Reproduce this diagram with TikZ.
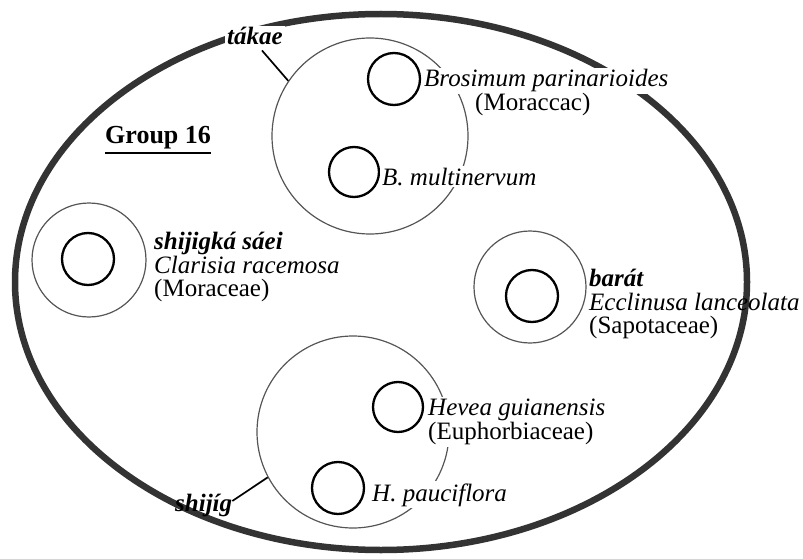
\documentclass[tikz,border=0pt]{standalone}
\usepackage{fontspec}
\setmainfont{Liberation Serif}
\usetikzlibrary{positioning}
\definecolor{rimgray}{RGB}{51,51,51}
\definecolor{ringgray}{RGB}{85,85,85}
\newcommand{\lblfont}{\fontsize{25}{23.5}\selectfont}
\tikzset{
  rim/.style={draw=rimgray, line width=6.5pt},
  ring/.style={circle, draw=ringgray, line width=1.2pt, inner sep=0pt},
  seedcircle/.style={circle, draw=black, line width=2.3pt, inner sep=0pt,
    minimum size=52pt},
  lbl/.style={inner sep=0pt, font=\lblfont, align=left},
  lblcut/.style={lbl, fill=white, inner sep=2pt},
  leader/.style={line width=1.7pt},
}

\begin{document}
\begin{tikzpicture}[x=1pt, y=-1pt]
  \useasboundingbox (0,0) rectangle (803,559);

  % Outer group boundary
  \draw[rim] (381,282) ellipse [x radius=366pt, y radius=268pt];

  % Rings
  \node[ring, minimum size=196pt] (topring) at (370,136) {};
  \node[ring, minimum size=192pt] (botring) at (353,432) {};
  \node[ring, minimum size=114pt] (clarring) at (89,260) {};
  \node[ring, minimum size=112pt] (baratring) at (530,287) {};

  % Seed circles
  \node[seedcircle] (brosimum) at (394,79) {};
  \node[seedcircle, minimum size=50pt] (multi) at (354,172) {};
  \node[seedcircle] (clarisia) at (88,259) {};
  \node[seedcircle] (ecclinusa) at (532,296) {};
  \node[seedcircle, minimum size=50pt] (hevea) at (398,407) {};
  \node[seedcircle] (paucif) at (338,488) {};

  % Labels
  \node[lbl, anchor=base west, font=\fontsize{26}{24}\selectfont\bfseries] (grp) at (105,143) {Group 16};
  \node[lblcut, anchor=base west] (takae) at (225,45) {\textbf{\textit{tákae}}};
  \node[lblcut, anchor=base west] (brosname) at (422,87) {\textit{Brosimum parinarioides}};
  \node[lbl, anchor=base west] (moraccac) at ([xshift=53pt, yshift=-23.5pt]brosname.base west) {(Moraccac)};
  \node[lblcut, anchor=base west] (multiname) at (380,185) {\textit{B. multinervum}};
  \node[lbl, anchor=west] (clarname) at (154,267)
    {\textbf{\textit{shijigká sáei}}\\\textit{Clarisia racemosa}\\(Moraceae)};
  \node[lbl, anchor=west] (baratname) at (589,304)
    {\textbf{\textit{barát}}\\\textit{Ecclinusa lanceolata}\\(Sapotaceae)};
  \node[lblcut, anchor=west] (heveaname) at (426,422)
    {\textit{Hevea guianensis}\\(Euphorbiaceae)};
  \node[lblcut, anchor=base west] (paucname) at (370,501) {\textit{H. pauciflora}};
  \node[lbl, anchor=base west] (shijig) at (175,511) {\textbf{\textit{shijíg}}};

  % Leaders and underline
  \draw[leader] ([shift={(7pt,-3pt)}]takae.south) -- (topring.146);
  \draw[leader] ([yshift=4pt]shijig.east) -- (botring.208);
  \draw[line width=1.6pt] ([yshift=-10pt]grp.base west) -- ([yshift=-10pt]grp.base east);
\end{tikzpicture}
\end{document}
